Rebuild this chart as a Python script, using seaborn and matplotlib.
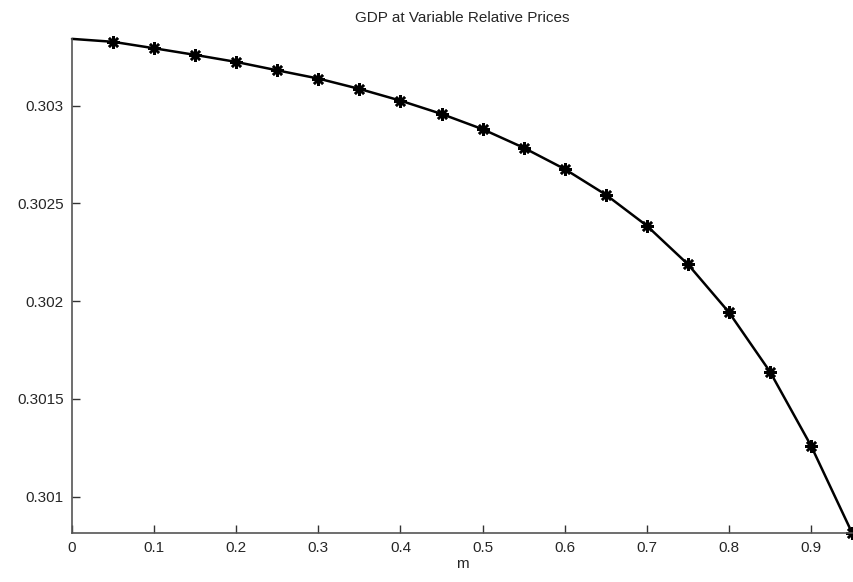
import numpy as np
import pandas as pd
import matplotlib
matplotlib.use("Agg")
import matplotlib.pyplot as plt
import seaborn as sns
from matplotlib.ticker import FuncFormatter

# values
m = [0.0, 0.05, 0.1, 0.15, 0.2, 0.25, 0.3, 0.35, 0.4, 0.45,
     0.5, 0.55, 0.6, 0.65, 0.7, 0.75, 0.8, 0.85, 0.9, 0.95]
gdp = [0.303342, 0.303327, 0.303294, 0.303260, 0.303224, 0.303181,
       0.303139, 0.303086, 0.303026, 0.302958, 0.302880, 0.302785,
       0.302676, 0.302545, 0.302386, 0.302189, 0.301943, 0.301639,
       0.301260, 0.300814]
x_ticks = [0, 0.1, 0.2, 0.3, 0.4, 0.5, 0.6, 0.7, 0.8, 0.9]
y_ticks = [0.301, 0.3015, 0.302, 0.3025, 0.303]

df = pd.DataFrame({"m": m, "gdp": gdp})

sns.set_theme(style="white")
plt.rcParams["font.family"] = ["Liberation Sans", "DejaVu Sans"]

fig = plt.figure(figsize=(8.54, 5.82), dpi=100)
ax = fig.add_axes([0.0843, 0.0842, 0.9135, 0.849])

# line through all points, asterisk markers from m=0.05 on
sns.lineplot(data=df, x="m", y="gdp", ax=ax, color="black", linewidth=1.8,
             marker=(8, 2, 0), markersize=9, markeredgewidth=1.8,
             markeredgecolor="black", markerfacecolor="black",
             markevery=slice(1, None), clip_on=False)

ax.set_xlim(0, 0.95)
ax.set_ylim(min(gdp), max(gdp))
ax.set_xticks(x_ticks)
ax.set_yticks(y_ticks)
ax.xaxis.set_major_formatter(FuncFormatter(lambda v, p: "%g" % v))
ax.yaxis.set_major_formatter(FuncFormatter(lambda v, p: "%g" % round(v, 6)))
ax.tick_params(axis="both", direction="in", labelsize=11, length=6, width=1,
               color="#333333", bottom=True, left=True, pad=6)

sns.despine(ax=ax)
for side in ["left", "bottom"]:
    ax.spines[side].set_color("#555555")
    ax.spines[side].set_linewidth(1.2)

ax.set_title("GDP at Variable Relative Prices", fontsize=11, pad=12)
ax.set_xlabel("m", fontsize=11, labelpad=1)
ax.set_ylabel("")

fig.savefig("out.png", dpi=100)
